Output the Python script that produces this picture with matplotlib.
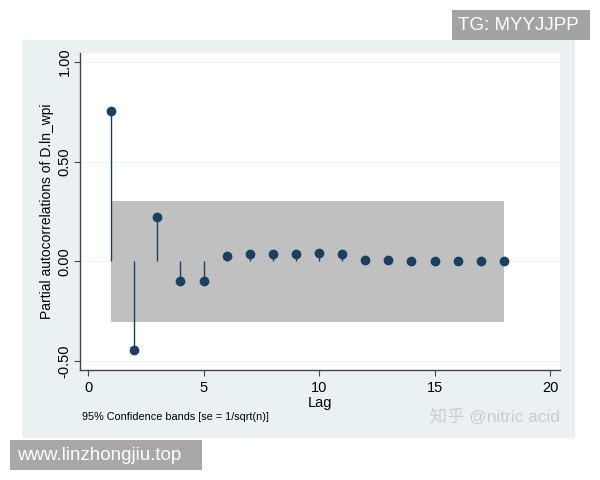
import matplotlib.pyplot as plt
from matplotlib.patches import Rectangle

plt.rcParams['font.family'] = ['Liberation Sans', 'Noto Sans CJK SC', 'DejaVu Sans']

lags = [1, 2, 3, 4, 5, 6, 7, 8, 9, 10, 11, 12, 13, 14, 15, 16, 17, 18]
pacf = [0.755, -0.445, 0.22, -0.10, -0.10, 0.025, 0.035, 0.035, 0.035, 0.04,
        0.035, 0.005, 0.005, 0.002, 0.003, 0.003, 0.002, 0.0]
band = 0.305

navy = '#1a3f63'


def fig_rect(x0, y0, x1, y1, color, z):
    # pixel box (top-left origin) -> figure rectangle
    fig.patches.append(Rectangle((x0 / 600, 1 - y1 / 480), (x1 - x0) / 600, (y1 - y0) / 480,
                                 transform=fig.transFigure, facecolor=color,
                                 edgecolor='none', zorder=z))


fig = plt.figure(figsize=(6, 4.8), dpi=100)
fig_rect(22, 40, 575, 438, '#eaf1f3', -1)

ax = fig.add_axes([80 / 600, 1 - 370 / 480, 480 / 600, 317 / 480])
ax.set_zorder(1)
ax.set_facecolor('white')

ax.fill_between([lags[0], lags[-1]], -band, band, color='#c0c0c0', lw=0, zorder=1)
for v in [1.0, 0.5, 0.0, -0.5]:
    ax.axhline(v, color='#eef3f5', lw=0.8, zorder=0.5)
ax.vlines(lags, 0, pacf, color=navy, lw=1.0, zorder=2)
ax.plot(lags, pacf, 'o', color=navy, ms=6, zorder=3)

ax.set_xlim(-0.35, 20.43)
ax.set_ylim(-0.545, 1.045)
ax.set_xticks([0, 5, 10, 15, 20])
ax.set_yticks([-0.5, 0.0, 0.5, 1.0])
ax.set_yticklabels(['-0.50', '0.00', '0.50', '1.00'], rotation=90, va='center')
for s in ['top', 'right']:
    ax.spines[s].set_visible(False)
for s in ['left', 'bottom']:
    ax.spines[s].set_color('#444444')
    ax.spines[s].set_linewidth(1.0)
ax.tick_params(labelsize=10.5, length=4, color='#444444')
ax.tick_params(axis='x', pad=4)
ax.tick_params(axis='y', pad=2)
ax.set_xlabel('Lag', fontsize=10.5, labelpad=0.5)
ax.set_ylabel('Partial autocorrelations of D.ln_wpi', fontsize=10, labelpad=3)

fig.text(82 / 600, 1 - 417 / 480, '95% Confidence bands [se = 1/sqrt(n)]',
         fontsize=7.8, va='center', ha='left')
fig.text(560 / 600, 1 - 417 / 480, '知乎 @nitric acid', fontsize=12.4,
         color='#c8cdd0', va='center', ha='right')

fig_rect(452, 10, 590, 40, '#a3a3a3', 2)
fig.text(458 / 600, 1 - 25 / 480, 'TG: MYYJJPP', fontsize=13.5, color='white',
         va='center', ha='left', zorder=3)
fig_rect(10, 440, 202, 470, '#a8a8a8', 2)
fig.text(17 / 600, 1 - 455 / 480, 'www.linzhongjiu.top', fontsize=13.5, color='white',
         va='center', ha='left', zorder=3)

fig.savefig('out.png', dpi=100)
